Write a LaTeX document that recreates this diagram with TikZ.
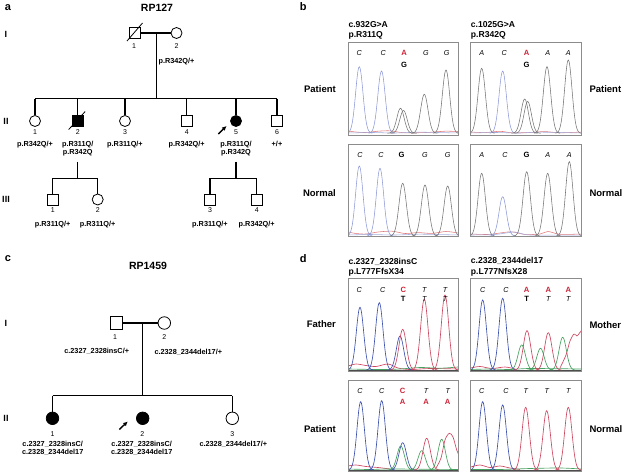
\documentclass[tikz,border=0pt]{standalone}
\usepackage{fontspec}
\setmainfont{Liberation Sans}
\usetikzlibrary{arrows.meta,calc}
\definecolor{cblueB}{RGB}{140,152,215}
\definecolor{cgrayB}{RGB}{115,115,115}
\definecolor{credB}{RGB}{225,120,120}
\definecolor{cblue}{RGB}{60,80,175}
\definecolor{cred}{RGB}{205,70,95}
\definecolor{cgreen}{RGB}{70,160,95}
\definecolor{mred}{RGB}{205,35,55}
\definecolor{boxgray}{RGB}{140,140,140}
\newcommand\chrpk[4]{\draw[#1] plot[domain=#2-13:#2+13,samples=41,smooth] (\x,{#4-(#4-#3)*exp(-((\x-#2)/5.2)^2)});}
\begin{document}
\begin{tikzpicture}[x=1pt,y=-1pt,
  ped/.style={line width=1.1pt},
  male/.style={draw,rectangle,minimum size=11pt,inner sep=0pt,line width=0.8pt},
  female/.style={draw,circle,minimum size=11pt,inner sep=0pt,line width=0.8pt},
  male2/.style={male,minimum size=12.5pt},
  female2/.style={female,minimum size=12.5pt},
  aff/.style={fill=black},
  lbl/.style={font=\bfseries\fontsize{7.3}{8.6}\selectfont,align=center,inner sep=0pt},
  num/.style={font=\fontsize{7}{8}\selectfont,inner sep=0pt},
  gen/.style={font=\bfseries\fontsize{9}{10}\selectfont,inner sep=0pt},
  ttl/.style={font=\bfseries\fontsize{10.5}{12}\selectfont,inner sep=0pt},
  pnl/.style={font=\bfseries\fontsize{11}{12}\selectfont,inner sep=0pt},
  side/.style={font=\bfseries\fontsize{9.5}{11}\selectfont,inner sep=0pt},
  mut/.style={font=\bfseries\fontsize{8.6}{10}\selectfont,inner sep=0pt,anchor=west},
  bs/.style={font=\itshape\fontsize{7.2}{8}\selectfont,inner sep=0pt},
  hr/.style={font=\bfseries\fontsize{7.6}{8}\selectfont,inner sep=0pt,text=mred},
  hk/.style={font=\bfseries\fontsize{7.6}{8}\selectfont,inner sep=0pt},
  chbox/.style={draw=boxgray,line width=0.7pt},
  pa/.style={-{Latex[length=4.5pt,width=4.5pt]},line width=1.4pt},
  trB/.style={line width=0.55pt},
  tr/.style={line width=0.65pt}]
\useasboundingbox (0,0) rectangle (625,474);

% ================= panel a =================
\node[pnl] (pa) at (8,8) {a};
\node[ttl] (t127) at (157,8) {RP127};
\node[gen] (gaI) at (6,34) {I};
\node[gen] (gaII) at (6,121) {II};
\node[gen] (gaIII) at (6,199.5) {III};

\node[male] (a11) at (135,33) {};
\node[female] (a12) at (176.5,33) {};
\draw[line width=0.8pt] ($(a11)+(-8,8)$) -- ($(a11)+(7.5,-10)$);
\draw[ped] (a11) -- (a12);
\coordinate (a1m) at (156.5,33);
\coordinate (a1s) at (156.5,98.5);
\draw[ped] (a1m) -- (a1s);
\node[num] (na11) at (134,46.5) {1};
\node[num] (na12) at (176.5,46.5) {2};
\node[lbl] (la12) at (176.5,62) {p.R342Q/+};

\coordinate (sibL) at (35,98.5);
\coordinate (sibR) at (276.5,98.5);
\draw[ped] (sibL) -- (sibR);
\node[female] (a21) at (35,121) {};
\node[male,aff] (a22) at (77.7,121) {};
\node[female] (a23) at (125,121) {};
\node[male] (a24) at (186.7,121) {};
\node[female,aff] (a25) at (236,121) {};
\node[male] (a26) at (277,121) {};
\foreach \n in {a21,a22,a23,a24,a25,a26} \draw[ped] (\n.north |- sibL) -- (\n.north);
\draw[line width=0.8pt] ($(a22)+(-9,8.5)$) -- ($(a22)+(7.5,-9.5)$);
\node[num] (na21) at (35,132.5) {1};
\node[num] (na22) at (77.7,132.5) {2};
\node[num] (na23) at (125,132.5) {3};
\node[num] (na24) at (186.7,132.5) {4};
\node[num] (na25) at (236,132.5) {5};
\node[num] (na26) at (277,132.5) {6};
\node[lbl,anchor=north] (la21) at (35,140.8) {p.R342Q/+};
\node[lbl,anchor=north] (la22) at (77.7,140.8) {p.R311Q/\\p.R342Q};
\node[lbl,anchor=north] (la23) at (125,140.8) {p.R311Q/+};
\node[lbl,anchor=north] (la24) at (186.7,140.8) {p.R342Q/+};
\node[lbl,anchor=north] (la25) at (236,140.8) {p.R311Q/\\p.R342Q};
\node[lbl,anchor=north] (la26) at (277,140.8) {+/+};
\coordinate (ar1a) at (218.3,134);
\coordinate (ar1b) at (226.5,126);
\draw[pa] (ar1a) -- (ar1b);

% generation III
\coordinate (d2a) at (77.7,161.5);
\coordinate (d2b) at (77.7,178.3);
\coordinate (s2L) at (52.7,178.3);
\coordinate (s2R) at (97.7,178.3);
\draw[ped] (d2a) -- (d2b);
\draw[ped] (s2L) -- (s2R);
\node[male] (a31) at (52.7,199.5) {};
\node[female] (a32) at (97.7,199.5) {};
\coordinate (d5a) at (236,161.5);
\coordinate (d5b) at (236,178.3);
\coordinate (s5L) at (210,178.3);
\coordinate (s5R) at (256.7,178.3);
\draw[ped] (d5a) -- (d5b);
\draw[ped] (s5L) -- (s5R);
\node[male] (a33) at (210,199.5) {};
\node[male] (a34) at (256.7,199.5) {};
\foreach \n/\s in {a31/s2L,a32/s2L,a33/s5L,a34/s5L} \draw[ped] (\n.north |- \s) -- (\n.north);
\node[num] (na31) at (52.7,210.5) {1};
\node[num] (na32) at (97.7,210.5) {2};
\node[num] (na33) at (210,210.5) {3};
\node[num] (na34) at (256.7,210.5) {4};
\node[lbl] (la31) at (52.7,224.3) {p.R311Q/+};
\node[lbl] (la32) at (97.7,224.3) {p.R311Q/+};
\node[lbl] (la33) at (210,224.3) {p.R311Q/+};
\node[lbl] (la34) at (256.7,224.3) {p.R342Q/+};

% ================= panel c =================
\node[pnl] (pc) at (8,259) {c};
\node[ttl] (t1459) at (148,266) {RP1459};
\node[gen] (gcI) at (6,323) {I};
\node[gen] (gcII) at (6,418.3) {II};
\node[male2] (c11) at (116.3,323) {};
\node[female2] (c12) at (164.3,323) {};
\draw[ped] (c11) -- (c12);
\coordinate (c1m) at (142.7,323);
\coordinate (c1s) at (142.7,395.7);
\draw[ped] (c1m) -- (c1s);
\node[num] (nc11) at (115,337) {1};
\node[num] (nc12) at (164.3,337) {2};
\node[lbl] (lc11) at (96.7,351.7) {c.2327\_2328insC/+};
\node[lbl] (lc12) at (188.3,352.5) {c.2328\_2344del17/+};
\coordinate (csL) at (52.5,395.7);
\coordinate (csR) at (232.3,395.7);
\draw[ped] (csL) -- (csR);
\node[female2,aff] (c21) at (52.5,418.3) {};
\node[female2,aff] (c22) at (142.7,418.3) {};
\node[female2] (c23) at (232.3,418.3) {};
\foreach \n in {c21,c23} \draw[ped] (\n.north |- csL) -- (\n.north);
\node[num] (nc21) at (52.5,434) {1};
\node[num] (nc22) at (142.2,434) {2};
\node[num] (nc23) at (232.3,434) {3};
\node[lbl,anchor=north] (lc21) at (52.7,440.6) {c.2327\_2328insC/\\c.2328\_2344del17};
\node[lbl,anchor=north] (lc22) at (141.7,440.6) {c.2327\_2328insC/\\c.2328\_2344del17};
\node[lbl,anchor=north] (lc23) at (233.3,440.6) {c.2328\_2344del17/+};
\coordinate (ar2a) at (119.3,429.5);
\coordinate (ar2b) at (127.7,421.5);
\draw[pa] (ar2a) -- (ar2b);

% ================= panel b =================
\node[pnl] (pb) at (303.3,7) {b};
\node[mut] (mb1) at (348.3,25) {c.932G>A};
\node[mut] (mb2) at (348.3,35.7) {p.R311Q};
\node[mut] (mb3) at (470.7,25) {c.1025G>A};
\node[mut] (mb4) at (470.7,35.7) {p.R342Q};
\node[side,anchor=east] (sb1) at (336,89) {Patient};
\node[side,anchor=west] (sb2) at (589.3,89) {Patient};
\node[side,anchor=east] (sb3) at (336,193.5) {Normal};
\node[side,anchor=west] (sb4) at (589.3,193.5) {Normal};

% box b1
\begin{scope}
\clip (348.3,42.7) rectangle (458.3,135);
\draw[credB,trB] plot[smooth] coordinates {(348.3,131) (356,132) (366,132.5) (378,131.2) (390,130.8) (402,132.6) (415,132.8) (430,132.3) (445,131.2) (458,131.5)};
\draw[cblueB!80,trB] plot[smooth] coordinates {(348.3,133) (372,132.5) (395,133) (420,132.2) (458,133)};
\chrpk{cblueB,trB}{359.3}{66.7}{133.3}
\chrpk{cblueB,trB}{381.5}{71}{133.3}
\chrpk{cgrayB,trB}{400.5}{108.3}{133.3}
\chrpk{cgrayB,trB}{403.5}{110.5}{133.3}
\chrpk{cgrayB,trB}{424.3}{94.3}{133.3}
\chrpk{cgrayB,trB}{446}{70}{133.3}
\end{scope}
\draw[chbox] (348.3,42.7) rectangle (458.3,135);
\foreach \qx/\ql/\qs [count=\i] in {359.3/C/bs,383.3/C/bs,404/A/hr,426/G/bs,446.7/G/bs}
  \node[\qs] (b1l\i) at (\qx,53.3) {\ql};
\node[hk] (b1m) at (404,65) {G};

% box b2
\begin{scope}
\clip (470.7,42.7) rectangle (581.7,135);
\draw[credB,trB] plot[smooth] coordinates {(470.7,132) (485,132.6) (500,131.3) (512,132.8) (530,132.5) (545,131.6) (560,132.8) (581.7,132)};
\draw[cblueB!80,trB] plot[smooth] coordinates {(470.7,133) (495,132.5) (520,133) (540,132.2) (581.7,133)};
\chrpk{cgrayB,trB}{481.7}{68.3}{133.3}
\chrpk{cblueB,trB}{502.7}{71}{133.3}
\chrpk{cgrayB,trB}{524.7}{99}{133.3}
\chrpk{cgrayB,trB}{527.7}{101.5}{133.3}
\chrpk{cgrayB,trB}{547}{66.7}{133.3}
\chrpk{cgrayB,trB}{568.3}{60}{133.3}
\end{scope}
\draw[chbox] (470.7,42.7) rectangle (581.7,135);
\foreach \qx/\ql/\qs [count=\i] in {481.7/A/bs,504.3/C/bs,526.7/A/hr,547.7/A/bs,568.3/A/bs}
  \node[\qs] (b2l\i) at (\qx,53.3) {\ql};
\node[hk] (b2m) at (526.7,65) {G};

% box b3
\begin{scope}
\clip (348.3,144) rectangle (458.3,236.7);
\draw[credB,trB] plot[smooth] coordinates {(348.3,232) (356,233.5) (366,234) (378,232) (392,231.2) (405,233.5) (418,232.6) (432,233.4) (446,231.5) (458,233)};
\draw[cblueB!80,trB] plot[smooth] coordinates {(348.3,235) (370,234.5) (395,235) (420,234.2) (458,235)};
\chrpk{cblueB,trB}{359.3}{166}{236}
\chrpk{cblueB,trB}{380}{168.3}{236}
\chrpk{cgrayB,trB}{402.7}{183.3}{236}
\chrpk{cgrayB,trB}{425}{185}{236}
\chrpk{cgrayB,trB}{447.7}{186}{236}
\end{scope}
\draw[chbox] (348.3,144) rectangle (458.3,236.7);
\foreach \qx/\ql/\qs [count=\i] in {360/C/bs,381/C/bs,401.7/G/hk,425/G/bs,447.7/G/bs}
  \node[\qs] (b3l\i) at (\qx,155) {\ql};

% box b4
\begin{scope}
\clip (470.7,144) rectangle (581.7,236.7);
\draw[credB,trB] plot[smooth] coordinates {(470.7,234) (488,234.5) (500,233) (512,231.8) (525,234.5) (540,234) (548,231.5) (560,234.3) (581.7,234)};
\draw[cblueB!80,trB] plot[smooth] coordinates {(470.7,235) (495,234.5) (515,232) (530,235) (581.7,235)};
\chrpk{cgrayB,trB}{481.7}{173.3}{236}
\chrpk{cblueB,trB}{502.7}{196.7}{236}
\chrpk{cgrayB,trB}{526.7}{171.7}{236}
\chrpk{cgrayB,trB}{547.7}{173.3}{236}
\chrpk{cgrayB,trB}{569.3}{161.7}{236}
\end{scope}
\draw[chbox] (470.7,144) rectangle (581.7,236.7);
\foreach \qx/\ql/\qs [count=\i] in {481.7/A/bs,505/C/bs,526.7/G/hk,547.7/A/bs,569.3/A/bs}
  \node[\qs] (b4l\i) at (\qx,155) {\ql};

% ================= panel d =================
\node[pnl] (pd) at (303.3,259) {d};
\node[mut] (md1) at (348.3,262) {c.2327\_2328insC};
\node[mut] (md2) at (348.3,272.7) {p.L777FfsX34};
\node[mut] (md3) at (470.7,261) {c.2328\_2344del17};
\node[mut] (md4) at (470.7,272.7) {p.L777NfsX28};
\node[side,anchor=east] (sd1) at (336,324.5) {Father};
\node[side,anchor=west] (sd2) at (589.3,325) {Mother};
\node[side,anchor=east] (sd3) at (336,429.3) {Patient};
\node[side,anchor=west] (sd4) at (589.3,429.3) {Normal};

% box d1 (father)
\begin{scope}
\clip (348.3,278.3) rectangle (458.3,371.5);
\draw[cred,tr] plot[smooth] coordinates {(348.3,366) (356,364) (366,365.5) (376,366.5) (388,364) (398,368) (410,369.5) (430,368.5) (458,369)};
\draw[cgreen,tr] plot[smooth] coordinates {(348.3,369) (380,369.5) (400,369) (420,367.5) (440,368.2) (458,367)};
\draw[black!70,tr] (348.3,370) -- (458.3,370);
\chrpk{cblue,tr}{360}{307.3}{370}
\chrpk{cblue,tr}{379.3}{302.7}{370}
\chrpk{cblue,tr}{400}{336}{370}
\chrpk{cred,tr}{402.7}{329.3}{370}
\chrpk{cred,tr}{424.3}{299.3}{370}
\chrpk{cred,tr}{445}{295}{370}
\end{scope}
\draw[chbox] (348.3,278.3) rectangle (458.3,371.5);
\foreach \qx/\ql/\qs [count=\i] in {359.3/C/bs,382.7/C/bs,403.3/C/hr,424.3/T/bs,445/T/bs}
  \node[\qs] (d1l\i) at (\qx,290) {\ql};
\foreach \qx/\ql/\qs [count=\i] in {403.3/T/hk,424.3/T/bs,445/T/bs}
  \node[\qs] (d1m\i) at (\qx,299.3) {\ql};

% box d2 (mother)
\begin{scope}
\clip (470.7,278.3) rectangle (581.7,371.5);
\draw[cred,tr] plot[smooth] coordinates {(470.7,368) (480,366.5) (492,368.5) (505,367) (515,369)};
\draw[cgreen,tr] plot[smooth] coordinates {(470.7,369.5) (490,369) (510,369.5) (530,368.5) (581.7,369)};
\draw[black!70,tr] (470.7,370) -- (581.7,370);
\chrpk{cblue,tr}{482.7}{300}{370}
\chrpk{cblue,tr}{502.7}{298.3}{370}
\chrpk{cgreen,tr}{521.7}{345}{370}
\chrpk{cred,tr}{527}{330.7}{370}
\chrpk{cgreen,tr}{540.5}{348.3}{370}
\chrpk{cred,tr}{548.3}{332.7}{370}
\chrpk{cgreen,tr}{562.7}{337.3}{370}
\draw[cred,tr] plot[smooth] coordinates {(560,368) (566,355) (570,341) (574,334) (577,336) (579.5,333) (582,330)};
\end{scope}
\draw[chbox] (470.7,278.3) rectangle (581.7,371.5);
\foreach \qx/\ql/\qs [count=\i] in {482.7/C/bs,506/C/bs,526.7/A/hr,548.3/A/hr,568.3/A/hr}
  \node[\qs] (d2l\i) at (\qx,290) {\ql};
\foreach \qx/\ql/\qs [count=\i] in {526.7/T/hk,548.3/T/bs,568.3/T/bs}
  \node[\qs] (d2m\i) at (\qx,299.3) {\ql};

% box d3 (patient)
\begin{scope}
\clip (348.3,380) rectangle (458.3,471.7);
\draw[cred,tr] plot[smooth] coordinates {(348.3,466) (356,465) (366,466.5) (378,467.5) (390,469)};
\draw[cgreen,tr] plot[smooth] coordinates {(348.3,469) (370,469.5) (390,469) (458.3,469.5)};
\draw[black!70,tr] (348.3,470) -- (458.3,470);
\chrpk{cblue,tr}{360.7}{401.7}{470}
\chrpk{cblue,tr}{381.7}{400.7}{470}
\chrpk{cblue,tr}{402.7}{442.7}{470}
\chrpk{cgreen,tr}{400.7}{446}{470}
\chrpk{cgreen,tr}{421.7}{450.7}{470}
\chrpk{cred,tr}{426.7}{438.3}{470}
\chrpk{cgreen,tr}{441.7}{439.3}{470}
\draw[cred,tr] plot[smooth] coordinates {(436,468) (441,458) (445,440) (449.3,433.3) (453,437) (456.7,450) (459,455)};
\end{scope}
\draw[chbox] (348.3,380) rectangle (458.3,471.7);
\foreach \qx/\ql/\qs [count=\i] in {360/C/bs,381.7/C/bs,402.7/C/hr,426/T/bs,447.7/T/bs}
  \node[\qs] (d3l\i) at (\qx,390.7) {\ql};
\foreach \qx/\ql/\qs [count=\i] in {402.7/A/hr,426/A/hr,447.7/A/hr}
  \node[\qs] (d3m\i) at (\qx,401.7) {\ql};

% box d4 (normal)
\begin{scope}
\clip (470.7,380) rectangle (581.7,471.7);
\draw[cred,tr] plot[smooth] coordinates {(470.7,467) (480,465) (490,467.5) (500,466) (510,468) (520,469.5)};
\draw[cgreen,tr] plot[smooth] coordinates {(470.7,469.5) (500,469.5) (530,468.5) (560,468) (581.7,469)};
\draw[black!70,tr] (470.7,470) -- (581.7,470);
\chrpk{cblue,tr}{482.7}{401.7}{470}
\chrpk{cblue,tr}{502.7}{405}{470}
\chrpk{cred,tr}{525.7}{407.3}{470}
\chrpk{cred,tr}{546.7}{410.7}{470}
\chrpk{cred,tr}{568.3}{407.3}{470}
\end{scope}
\draw[chbox] (470.7,380) rectangle (581.7,471.7);
\foreach \qx/\ql/\qs [count=\i] in {481.7/C/bs,506/C/bs,525.7/T/bs,546.7/T/bs,568.3/T/bs}
  \node[\qs] (d4l\i) at (\qx,390.7) {\ql};
\end{tikzpicture}
\end{document}
